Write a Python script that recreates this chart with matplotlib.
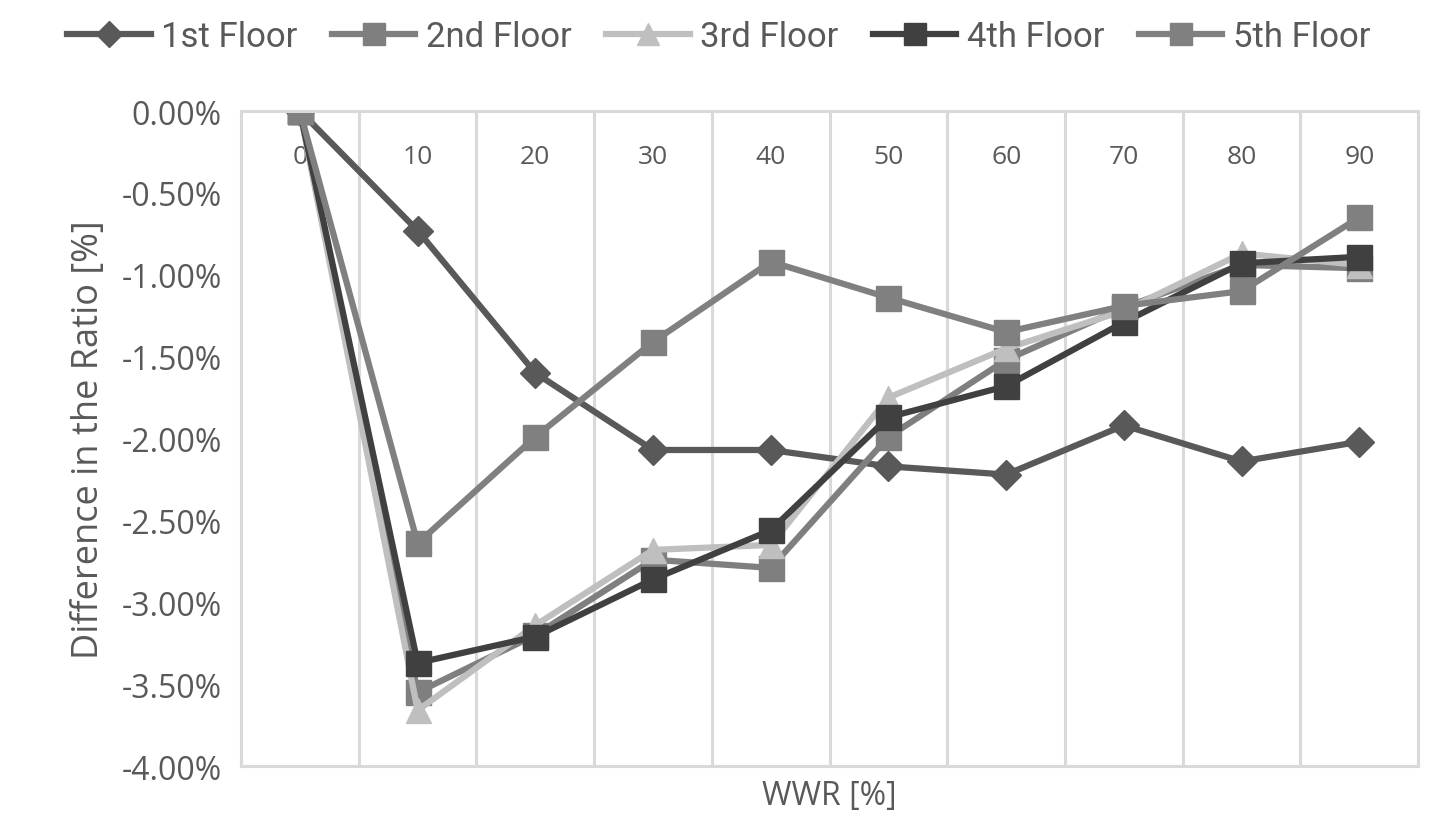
import numpy as np
import matplotlib
matplotlib.use("Agg")
import matplotlib.pyplot as plt
from matplotlib.ticker import FuncFormatter

wwr = ["0", "10", "20", "30", "40", "50", "60", "70", "80", "90"]

floor1 = [0.00, -0.73, -1.60, -2.07, -2.07, -2.17, -2.22, -1.92, -2.14, -2.02]
floor2 = [0.00, -3.55, -3.20, -2.74, -2.79, -1.99, -1.52, -1.20, -0.94, -0.96]
floor3 = [0.00, -3.66, -3.14, -2.68, -2.65, -1.75, -1.45, -1.22, -0.87, -0.94]
floor4 = [0.00, -3.37, -3.21, -2.86, -2.56, -1.87, -1.68, -1.29, -0.93, -0.89]
floor5 = [0.00, -2.64, -1.99, -1.41, -0.92, -1.14, -1.35, -1.19, -1.10, -0.65]

labels = ["1st Floor", "2nd Floor", "3rd Floor", "4th Floor", "5th Floor"]

text_col = "#595959"
grid_col = "#d9d9d9"
ui_font = ["Open Sans", "DejaVu Sans"]

fig = plt.figure(figsize=(14.29, 8.2), dpi=100)
ax = fig.add_axes([0.1687, 0.0646, 0.8237, 0.7988])

x = np.arange(len(wwr))
series = [
    (floor1, "#595959", "D", 15),
    (floor2, "#7f7f7f", "s", 18),
    (floor3, "#bfbfbf", "^", 18),
    (floor4, "#404040", "s", 18),
    (floor5, "#808080", "s", 18),
]
lines = []
for (vals, col, mk, ms), lab in zip(series, labels):
    ln, = ax.plot(x, vals, color=col, lw=4.5, marker=mk, markersize=ms,
                  markerfacecolor=col, markeredgecolor=col, label=lab)
    lines.append(ln)

ax.set_xlim(-0.5, len(wwr) - 0.5)
ax.set_ylim(-4.0, 0.0)
ax.set_yticks(np.arange(-4.0, 0.01, 0.5))
ax.yaxis.set_major_formatter(FuncFormatter(lambda v, p: f"{v:.2f}%"))

# category labels sit just under the zero line
ax.set_xticks(x)
ax.set_xticklabels(wwr)
ax.set_xticks(np.arange(0.5, len(wwr) - 0.5, 1.0), minor=True)
ax.tick_params(axis="x", which="major", top=True, labeltop=True, bottom=False,
               labelbottom=False, length=0, pad=-42, labelsize=19,
               labelcolor=text_col)
ax.tick_params(axis="x", which="minor", length=0)
ax.tick_params(axis="y", length=0, pad=14, labelsize=23, labelcolor=text_col)
for t in ax.get_yticklabels() + ax.get_xticklabels():
    t.set_family(ui_font)

ax.grid(True, which="minor", axis="x", color=grid_col, lw=2.2)
ax.grid(False, which="major")
for s in ax.spines.values():
    s.set_color(grid_col)
    s.set_linewidth(2.2)

ax.set_xlabel("WWR [%]", fontsize=23, color=text_col, family=ui_font, labelpad=6)
ax.xaxis.set_label_position("bottom")
ax.set_ylabel("Difference in the Ratio [%]", fontsize=26, color=text_col,
              family=ui_font, labelpad=10)

leg = fig.legend(handles=lines, loc="upper center", bbox_to_anchor=(0.503, 1.012),
                 ncol=5, frameon=False, handlelength=2.4, handletextpad=0.3,
                 columnspacing=1.0, markerscale=0.85,
                 prop={"family": ["Roboto", "DejaVu Sans"], "size": 25})
for t in leg.get_texts():
    t.set_color(text_col)

fig.savefig("out.png", dpi=100)
